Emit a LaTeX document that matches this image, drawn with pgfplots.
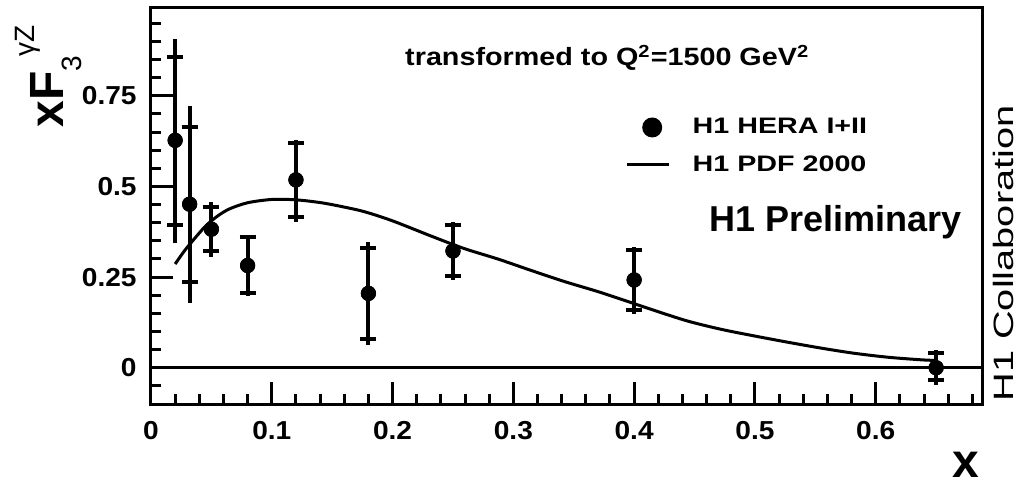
\documentclass[border=0pt]{standalone}
\usepackage{fontspec}
\setmainfont{Liberation Sans}
\usepackage{graphicx}
\usepackage{pgfplots}
\usepackage{pgfplotstable}
\pgfplotsset{compat=1.18}

\pgfplotstableread{
x y sp sm tp tm
0.020 0.627 0.231 0.233 0.279 0.283
0.032 0.451 0.213 0.214 0.271 0.272
0.050 0.382 0.061 0.060 0.076 0.076
0.080 0.282 0.078 0.075 0.084 0.084
0.120 0.518 0.103 0.101 0.110 0.115
0.180 0.205 0.126 0.126 0.143 0.142
0.250 0.322 0.072 0.070 0.081 0.080
0.400 0.242 0.083 0.083 0.092 0.094
0.650 0.000 0.041 0.034 0.050 0.048
}\datatable

\pgfplotstableread{
x y
0.020 0.286
0.0276 0.322
0.035 0.352
0.045 0.390
0.055 0.418
0.065 0.438
0.080 0.455
0.100 0.464
0.120 0.463
0.141 0.455
0.160 0.443
0.177 0.430
0.200 0.405
0.232 0.363
0.259 0.329
0.287 0.300
0.315 0.268
0.342 0.238
0.370 0.210
0.390 0.188
0.415 0.160
0.444 0.129
0.472 0.106
0.499 0.088
0.527 0.0705
0.555 0.054
0.582 0.040
0.610 0.029
0.637 0.022
0.650 0.020
}\curvetable

\newcommand{\tl}[1]{\scalebox{1.08}[1]{#1}}

\begin{document}
\begin{tikzpicture}
\begin{axis}[
  name=ax,
  scale only axis,
  width=415.5pt, height=198pt,
  xmin=0, xmax=0.688, ymin=-0.1, ymax=0.992,
  axis line style={line width=1.5pt, black},
  tick style={line width=1.5pt, black},
  major tick length=11pt, minor tick length=5pt,
  tick pos=left, tick align=inside,
  xtick={0,0.1,0.2,0.3,0.4,0.5,0.6},
  xticklabels={\tl{0},\tl{0.1},\tl{0.2},\tl{0.3},\tl{0.4},\tl{0.5},\tl{0.6}},
  minor xtick={0.02,0.04,0.06,0.08,0.12,0.14,0.16,0.18,0.22,0.24,0.26,0.28,0.32,0.34,0.36,0.38,0.42,0.44,0.46,0.48,0.52,0.54,0.56,0.58,0.62,0.64,0.66,0.68},
  ytick={0,0.25,0.5,0.75},
  yticklabels={\tl{0},\tl{0.25},\tl{0.5},\tl{0.75}},
  minor ytick={-0.05,0.05,0.1,0.15,0.2,0.3,0.35,0.4,0.45,0.55,0.6,0.65,0.7,0.8,0.85,0.9,0.95},
  xticklabel style={inner sep=0pt, anchor=north, yshift=-8.5pt, font=\fontsize{13}{13}\selectfont\bfseries},
  yticklabel style={inner sep=0pt, anchor=east, xshift=-7pt, font=\fontsize{13}{13}\selectfont\bfseries},
  legend style={at={(axis cs:0.3927,0.612)}, anchor=west, draw=none, fill=none,
    inner sep=0pt, row sep=9pt, column sep=11pt,
    nodes={inner sep=0pt},
    font=\fontsize{11.2}{11.2}\selectfont\bfseries},
  legend cell align=left,
]
\addplot[line width=1.5pt, black, forget plot] coordinates {(0,0) (0.688,0)};
\addplot[line width=1.5pt, black, smooth, tension=0.5, forget plot] table[x=x,y=y] {\curvetable};
\addplot[only marks, black, mark=*, mark size=3.6pt, forget plot,
  error bars/.cd, y dir=both, y explicit, error mark=none,
  error bar style={line width=2pt, black}]
  table[x=x, y=y, y error plus=tp, y error minus=tm] {\datatable};
\addplot[only marks, black, mark=*, mark size=3.6pt, forget plot,
  error bars/.cd, y dir=both, y explicit,
  error bar style={line width=2pt, black},
  error mark options={rotate=90, line width=2pt, mark size=4pt, black}]
  table[x=x, y=y, y error plus=sp, y error minus=sm] {\datatable};
\addlegendimage{legend image code/.code={\fill[black, draw=none] (12.5pt,0pt) circle (5pt); \path[draw=none, fill=none] (0pt,0pt) -- (21pt,0pt);}}
\addlegendentry{\scalebox{1.28}[1]{H1 HERA I+II}}
\addlegendimage{legend image code/.code={\draw[black, line width=1.5pt] (0pt,0pt) -- (21pt,0pt);}}
\addlegendentry{\scalebox{1.28}[1]{H1 PDF 2000}}
\node[anchor=base, inner sep=0pt, font=\fontsize{12.5}{12.5}\selectfont\bfseries] at (axis cs:0.3778,0.8327)
  {\scalebox{1.15}[1]{transformed to Q\textsuperscript{2}=1500 GeV\textsuperscript{2}}};
\node[anchor=base, inner sep=0pt, font=\fontsize{18}{18}\selectfont\bfseries] at (axis cs:0.5667,0.375)
  {H1 Preliminary};
\end{axis}
\node[rotate=90, anchor=base west, inner sep=0pt, font=\fontsize{14}{14}\selectfont] at ([shift={(15.5pt,1pt)}]ax.south east)
  {\scalebox{1.42}[1]{H1 Collaboration}};
\node[anchor=base east, inner sep=0pt, font=\fontsize{24}{24}\selectfont\bfseries] at ([shift={(-1pt,-36.5pt)}]ax.south east) {x};
\node[rotate=90, anchor=base west, inner sep=0pt] at ([shift={(-43.5pt,-60pt)}]ax.north west)
  {{\fontsize{24}{24}\selectfont\bfseries xF}\raisebox{-9pt}{\fontsize{14}{14}\selectfont 3}\raisebox{14.5pt}{\fontsize{14}{14}\selectfont γZ}};
\pgfresetboundingbox
\path[use as bounding box] ([shift={(-75.5pt,-40pt)}]ax.south west) rectangle ([shift={(18.5pt,4pt)}]ax.north east);
\end{tikzpicture}
\end{document}
